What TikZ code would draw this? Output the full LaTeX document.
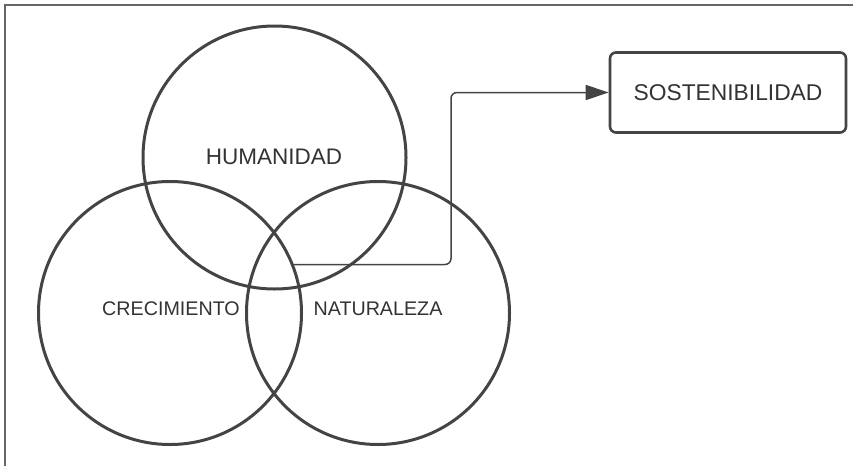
\documentclass[tikz,border=0pt]{standalone}
\usepackage{fontspec}
\setmainfont{Liberation Sans}
\usetikzlibrary{arrows.meta}
\definecolor{ink}{HTML}{444444}
\definecolor{txt}{HTML}{333333}
\definecolor{frame}{HTML}{666666}
\tikzset{
  venn/.style={draw=ink, line width=3pt, circle, minimum size=263pt, inner sep=0pt},
  lbl/.style={text=txt, inner sep=0pt},
  boxnode/.style={draw=ink, line width=2.6pt, rounded corners=6pt, minimum width=236pt, minimum height=80pt, text=txt},
  conn/.style={draw=ink, line width=1.5pt, rounded corners=6pt, -{Triangle[length=23pt,width=15pt]}},
}
\begin{document}
\begin{tikzpicture}[x=1pt,y=-1pt]
\useasboundingbox (0,0) rectangle (862,466);
\draw[frame, line width=1.3pt] (5,466) -- (5,5) -- (853,5);
\node[venn] (hum) at (274.5,157.5) {};
\node[venn] (cre) at (170,313) {};
\node[venn] (nat) at (378,313) {};
\node[lbl, font=\fontsize{22.5}{26}\selectfont] (humt) at (274,157) {HUMANIDAD};
\node[lbl, font=\fontsize{19.7}{23}\selectfont] (cret) at (171,309) {CRECIMIENTO};
\node[lbl, font=\fontsize{19.7}{23}\selectfont] (natt) at (378,309) {NATURALEZA};
\node[boxnode, font=\fontsize{22.8}{26}\selectfont] (sos) at (728,92.5) {SOSTENIBILIDAD};
\coordinate (start) at (291,264.5);
\draw[conn] (start) -- (451,264.5) -- (451,92.5) -- (sos.west);
\end{tikzpicture}
\end{document}
